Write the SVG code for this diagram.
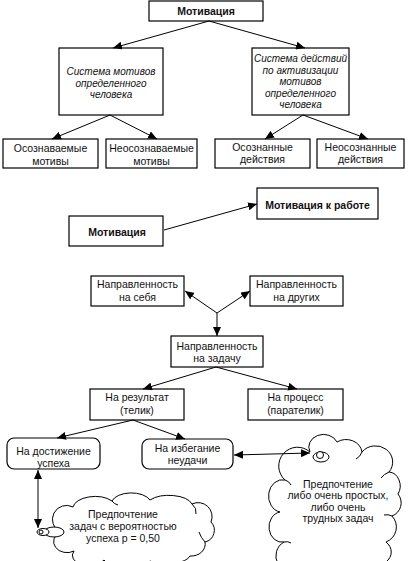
<svg xmlns="http://www.w3.org/2000/svg" width="412" height="561" viewBox="0 0 412 561">
<defs>
<marker id="ah" markerUnits="userSpaceOnUse" markerWidth="10" markerHeight="8" refX="9" refY="4" orient="auto-start-reverse">
<path d="M0,0 L9,4 L0,8 Z" fill="#000"/>
</marker>
<style>
.b{fill:#fff;stroke:#000;stroke-width:1.2}
.t{font-family:"Liberation Sans",Arial,sans-serif;font-size:10.5px;fill:#111;text-anchor:middle}
.bd{font-weight:bold}
.it{font-style:italic;font-size:10px}
.c line,.c path{stroke:#000;stroke-width:1;fill:none}
.cl{fill:#fff;stroke:#000;stroke-width:1}
</style>
</defs>
<rect width="412" height="561" fill="#fff"/>

<g id="n-motiv1"><rect class="b" x="149" y="1" width="114" height="20"/><text class="t bd" x="206" y="15">Мотивация</text></g>
<g id="n-sysmot"><rect class="b" x="59" y="48" width="104" height="67"/>
<text class="t it" x="111" y="74.5">Система мотивов</text><text class="t it" x="111" y="86.5">определенного</text><text class="t it" x="111" y="98">человека</text></g>
<g id="n-sysdeist"><rect class="b" x="252" y="48" width="97" height="67"/>
<text class="t it" x="300.5" y="62">Система действий</text><text class="t it" x="300.5" y="73.5">по активизации</text><text class="t it" x="300.5" y="85">мотивов</text><text class="t it" x="300.5" y="96.5">определенного</text><text class="t it" x="300.5" y="108">человека</text></g>
<g id="n-osmot"><rect class="b" x="3" y="139" width="95" height="29"/><text class="t" x="50.5" y="151.5">Осознаваемые</text><text class="t" x="50.5" y="164.5">мотивы</text></g>
<g id="n-neosmot"><rect class="b" x="106" y="139" width="91" height="29"/><text class="t" x="151.5" y="151.5">Неосознаваемые</text><text class="t" x="151.5" y="164.5">мотивы</text></g>
<g id="n-osdeist"><rect class="b" x="215" y="139" width="95" height="29"/><text class="t" x="262.5" y="150.5">Осознанные</text><text class="t" x="262.5" y="163">действия</text></g>
<g id="n-neosdeist"><rect class="b" x="317" y="139" width="87" height="29"/><text class="t" x="360.5" y="150.5">Неосознанные</text><text class="t" x="360.5" y="163">действия</text></g>

<g id="n-motrab"><rect class="b" x="257" y="188" width="121" height="31"/><text class="t bd" x="317.5" y="209">Мотивация к работе</text></g>
<g id="n-motiv2"><rect class="b" x="69" y="216" width="94" height="30"/><text class="t bd" x="117" y="236">Мотивация</text></g>

<g id="n-sebya"><rect class="b" x="91" y="276" width="93" height="30"/><text class="t" x="137.5" y="288">Направленность</text><text class="t" x="137.5" y="300.5">на себя</text></g>
<g id="n-drugih"><rect class="b" x="250" y="276" width="93" height="30"/><text class="t" x="296.5" y="288">Направленность</text><text class="t" x="296.5" y="300.5">на других</text></g>
<g id="n-zadachu"><rect class="b" x="171" y="336" width="92" height="31"/><text class="t" x="217" y="349.5">Направленность</text><text class="t" x="217" y="361.5">на задачу</text></g>
<g id="n-rezult"><rect class="b" x="90" y="389" width="94" height="31"/><text class="t" x="137" y="400.5">На результат</text><text class="t" x="137" y="413.5">(телик)</text></g>
<g id="n-process"><rect class="b" x="248" y="389" width="95" height="31"/><text class="t" x="295.5" y="400.5">На процесс</text><text class="t" x="295.5" y="413.5">(парателик)</text></g>
<g id="n-dost"><rect class="b" x="7" y="438" width="93" height="31" rx="7"/><text class="t" x="53.5" y="454.5">На достижение</text><text class="t" x="53.5" y="466.5">успеха</text></g>
<g id="n-izbeg"><rect class="b" x="142" y="439" width="91" height="30" rx="7"/><text class="t" x="187.5" y="451.5">На избегание</text><text class="t" x="187.5" y="463.5">неудачи</text></g>

<g id="n-cloud1">
<path class="cl" d="M60,532 A11 11 0 0 1 73,507 A22 12 0 0 1 112,501 A20 11 0 0 1 150,500 A24 12 0 0 1 192,504 A14 14 0 0 1 211,522 A12 12 0 0 1 205,542 A14 12 0 0 1 190,556 A24 10 0 0 1 150,561 A24 10 0 0 1 104,560 A16 10 0 0 1 74,551 A12 10 0 0 1 60,532 Z"/>
<path class="cl" d="M192,504 q5,4 4,10 M205,542 q-4,-4 -6,-10 M112,501 q2,3 6,4"/>
<ellipse class="cl" cx="54" cy="532" rx="10" ry="5"/>
<ellipse class="cl" cx="43" cy="532" rx="6" ry="3.5"/>
<circle class="cl" cx="41" cy="532" r="2"/>
<text class="t" x="123" y="518">Предпочтение</text><text class="t" x="123" y="530">задач с вероятностью</text><text class="t" x="123" y="542">успеха р = 0,50</text>
</g>

<g id="n-cloud2">
<path class="cl" d="M310,452 A14 12 0 0 1 337,442 A16 14 0 0 1 362,452 A17 16 0 0 1 389,472 A12 14 0 0 1 398,494 A14 14 0 0 1 392,516 A16 16 0 0 1 386,542 A18 14 0 0 1 360,562 L300,570 A16 16 0 0 1 284,542 A12 14 0 0 1 280,512 A12 14 0 0 1 285,480 A14 14 0 0 1 310,452 Z"/>
<path class="cl" d="M362,452 q-2,5 -6,7 M389,472 q-5,2 -8,6 M392,516 q-4,-2 -8,-1 M284,542 q4,-1 7,1 M285,480 q4,1 6,5"/>
<ellipse class="cl" cx="321" cy="457" rx="8" ry="5"/>
<circle class="cl" cx="320" cy="455" r="3.5"/>
<text class="t" x="338" y="487.5">Предпочтение</text><text class="t" x="338" y="499">либо очень простых,</text><text class="t" x="338" y="510.5">либо очень</text><text class="t" x="338" y="522">трудных задач</text>
</g>

<g id="connectors" class="c">
<line x1="209" y1="21" x2="113" y2="48" marker-end="url(#ah)"/>
<line x1="209" y1="21" x2="305" y2="48" marker-end="url(#ah)"/>
<line x1="110" y1="115" x2="52" y2="139" marker-end="url(#ah)"/>
<line x1="110" y1="115" x2="157" y2="139" marker-end="url(#ah)"/>
<line x1="303" y1="115" x2="265" y2="139" marker-end="url(#ah)"/>
<line x1="303" y1="115" x2="368" y2="139" marker-end="url(#ah)"/>
<line x1="164" y1="230" x2="257" y2="204" marker-end="url(#ah)"/>
<line x1="217" y1="313" x2="185" y2="291" marker-end="url(#ah)"/>
<line x1="217" y1="313" x2="250" y2="291" marker-end="url(#ah)"/>
<line x1="217" y1="313" x2="217" y2="336" marker-end="url(#ah)"/>
<line x1="216" y1="367" x2="143" y2="389" marker-end="url(#ah)"/>
<line x1="216" y1="367" x2="297" y2="389" marker-end="url(#ah)"/>
<line x1="133" y1="420" x2="57" y2="438" marker-end="url(#ah)"/>
<line x1="133" y1="420" x2="185" y2="439" marker-end="url(#ah)"/>
<line x1="234" y1="455" x2="310" y2="453" marker-start="url(#ah)" marker-end="url(#ah)"/>
<line x1="38" y1="470" x2="38" y2="528" marker-start="url(#ah)" marker-end="url(#ah)"/>
</g>
</svg>
